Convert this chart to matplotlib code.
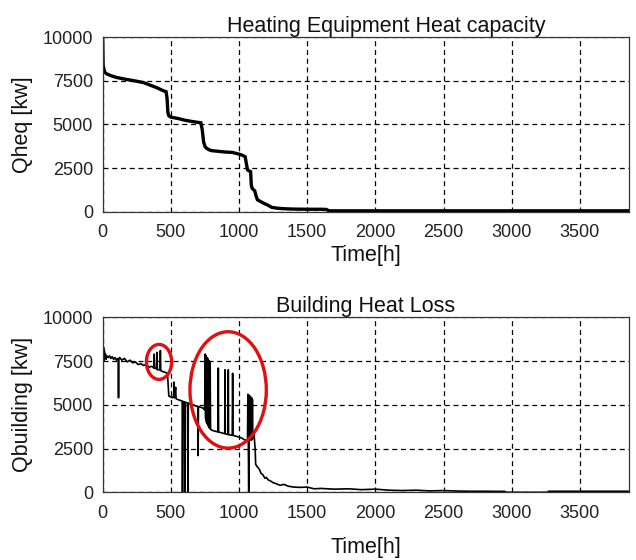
import matplotlib
matplotlib.use("Agg")
import matplotlib.pyplot as plt
from matplotlib.patches import Ellipse

plt.rcParams['font.family'] = ['Liberation Sans', 'DejaVu Sans']

# ---- Data: Heating equipment heat capacity (top) ----
t_heq = [0, 3, 8, 15, 30, 60, 100, 150, 200, 250, 300, 350, 400, 440, 465, 472, 478, 485,
         500, 550, 600, 650, 700, 720, 730, 740, 750, 760, 780, 800, 850, 900, 950, 1000,
         1020, 1045, 1055, 1062, 1070, 1085, 1090, 1097, 1115, 1125, 1135, 1165, 1190, 1210,
         1240, 1280, 1330, 1400, 1500, 1600, 1640, 1660, 2000, 2500, 3000, 3500, 3860]
q_heq = [10000, 8400, 8200, 8000, 7900, 7800, 7700, 7620, 7550, 7480, 7400, 7250, 7100, 6950,
         6880, 6500, 5700, 5500, 5420, 5350, 5250, 5180, 5120, 5100, 4700, 4000, 3750, 3650,
         3550, 3500, 3460, 3420, 3400, 3300, 3250, 3150, 2700, 2400, 2350, 2300, 1500, 1330,
         1200, 900, 680, 550, 450, 380, 250, 200, 170, 150, 140, 140, 130, 50, 50, 50, 50, 50, 50]

# ---- Data: Building heat loss (bottom) ----
t_bld = [0, 3, 6, 9, 12, 16, 20, 25, 30, 40, 50, 60, 70, 80, 90, 100, 110, 114, 116, 118,
         125, 140, 160, 180, 200, 220, 240, 260, 280, 300, 320, 340, 360, 375, 378, 381, 395,
         398, 401, 420, 423, 426, 440, 460, 475, 485, 500, 510, 520, 523, 526, 535, 538, 550,
         570, 583, 585, 588, 600, 602, 604, 622, 625, 628, 640, 660, 680, 698, 700, 702, 720,
         740, 748, 752, 755, 758, 761, 764, 767, 770, 773, 776, 779, 782, 785, 788, 791, 800,
         820, 846, 848, 850, 870, 895, 897, 899, 919, 921, 923, 950, 953, 956, 980, 1000, 1020,
         1040, 1060, 1062, 1065, 1068, 1071, 1074, 1077, 1080, 1083, 1086, 1089, 1092, 1095,
         1098, 1101, 1110, 1118, 1122, 1130, 1140, 1150, 1160, 1175, 1190, 1200, 1215, 1230,
         1250, 1270, 1300, 1330, 1360, 1400, 1450, 1500, 1550, 1600, 1700, 1800, 1900, 2000,
         2100, 2200, 2300, 2400, 2500, 2600, 2700, 2800, 2950, 2960, 3260, 3270, 3500, 3860]
q_bld = [8400, 7100, 8300, 7500, 8100, 7700, 7900, 7600, 7800, 7700, 7800, 7650, 7750, 7600,
         7700, 7550, 7650, 7600, 5400, 7600, 7700, 7550, 7650, 7450, 7550, 7400, 7450, 7300,
         7350, 7250, 7300, 7150, 7200, 7100, 7900, 7100, 7050, 8000, 7000, 7000, 8100, 6950,
         6900, 6850, 6800, 5500, 5450, 5400, 5500, 6300, 5400, 6000, 5350, 5300, 5250, 5200,
         0, 5200, 5150, 0, 5150, 5100, 0, 5100, 5050, 5000, 4950, 4900, 2100, 4900, 4850,
         4800, 4700, 7900, 4200, 7800, 4000, 7700, 3900, 7650, 3800, 7550, 3700, 7500, 3650,
         7400, 3600, 3550, 3500, 3450, 7100, 3450, 3400, 3350, 7000, 3350, 3300, 7000, 3300,
         3250, 6800, 3250, 3200, 3150, 3100, 3000, 2950, 3000, 5600, 3000, 0, 5550, 3000,
         5500, 3000, 5450, 3000, 5400, 3000, 5300, 3100, 3300, 2500, 1600, 1500, 1400, 1300,
         1100, 1000, 800, 850, 700, 650, 550, 500, 400, 450, 350, 300, 280, 300, 200, 220,
         180, 200, 150, 180, 120, 100, 120, 80, 100, 70, 60, 60, 50, 0, 0, 60, 60, 60]

# ---- Highlight ellipses (centre x, centre y, width, height) ----
circles_x = [413, 920]
circles_y = [7450, 5850]
circles_w = [185, 560]
circles_h = [2000, 6650]

x_ticks = [0, 500, 1000, 1500, 2000, 2500, 3000, 3500]
y_ticks = [0, 2500, 5000, 7500, 10000]

fig = plt.figure(figsize=(6.36, 5.6), dpi=100)
W, H = 636, 560

def axes_px(left, top, right, bottom):
    return fig.add_axes([left / W, 1 - bottom / H, (right - left) / W, (bottom - top) / H])

ax1 = axes_px(102.7, 37.3, 629, 211.7)
ax2 = axes_px(102.7, 317.3, 629, 492.3)

ax1.plot(t_heq, q_heq, color='black', lw=2.4, solid_joinstyle='miter')
ax2.plot(t_bld, q_bld, color='black', lw=1.2)
for cx, cy, cw, ch in zip(circles_x, circles_y, circles_w, circles_h):
    ax2.add_patch(Ellipse((cx, cy), cw, ch, fill=False, edgecolor='#e01010', lw=2.4, zorder=5))

for ax in (ax1, ax2):
    ax.set_xlim(0, 3860)
    ax.set_ylim(0, 10000)
    ax.set_xticks(x_ticks)
    ax.set_yticks(y_ticks)
    ax.grid(True, color='black', linestyle=(0, (4, 3)), linewidth=0.9)
    ax.tick_params(axis='both', direction='in', length=0, labelsize=13, colors='#222222')
    ax.tick_params(axis='x', pad=9)
    ax.tick_params(axis='y', pad=7)
    for s in ax.spines.values():
        s.set_linewidth(0.9)
        s.set_color('#333333')

lab = 15.5
ax1.set_title('Heating Equipment Heat capacity', fontsize=lab, x=0.538, pad=2, color='#111111')
ax2.set_title('Building Heat Loss', fontsize=lab, pad=2, color='#111111')
ax1.set_ylabel('Qheq [kw]', fontsize=lab, labelpad=7, color='#111111')
ax2.set_ylabel('Qbuilding [kw]', fontsize=lab, labelpad=7, color='#111111')
ax1.set_xlabel('Time[h]', fontsize=lab, labelpad=3, color='#111111')
ax2.set_xlabel('Time[h]', fontsize=lab, labelpad=11, color='#111111')

fig.savefig('out.png', dpi=100)
